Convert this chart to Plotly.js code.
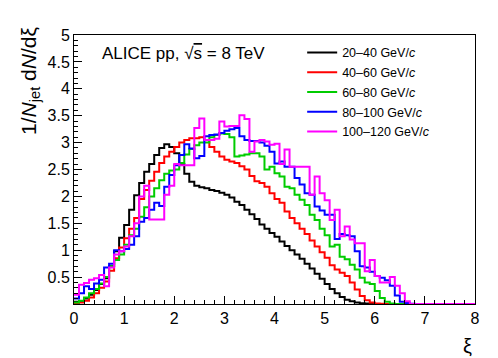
<!DOCTYPE html>
<html>
<head>
<meta charset="utf-8">
<script src="https://cdn.plot.ly/plotly-3.0.1.min.js"></script>
<style>
  html, body { margin: 0; padding: 0; background: #fff; }
  #plot { width: 498px; height: 358px; }
</style>
</head>
<body>
<div id="plot"></div>
<script>
// bin lower edges, xi = 0.0 ... 7.9 (bin width 0.1), plus upper edge 8.0
const xiEdges = Array.from({length: 81}, (_, i) => +(i * 0.1).toFixed(1));

// 1/Njet dN/dxi per bin
const pt20_40 = [0.04,0.05,0.1,0.17,0.26,0.37,0.48,0.7,0.98,1.23,
  1.47,1.75,2.02,2.25,2.46,2.6,2.77,2.9,2.97,2.92,
  2.8,2.6,2.42,2.27,2.2,2.17,2.15,2.12,2.1,2.07,
  2.03,1.98,1.9,1.84,1.75,1.67,1.58,1.48,1.4,1.32,
  1.25,1.16,1.08,1.0,0.92,0.84,0.75,0.66,0.56,0.47,
  0.37,0.28,0.2,0.13,0.08,0.05,0.03,0.015,0.008,0.004,
  0,0,0,0,0,0,0,0,0,0, 0,0,0,0,0,0,0,0,0,0];

const pt40_60 = [0.02,0.03,0.06,0.12,0.2,0.3,0.42,0.62,0.85,1.05,
  1.22,1.4,1.6,1.95,2.12,2.29,2.46,2.62,2.74,2.83,
  2.92,3.0,3.05,3.08,3.08,3.1,3.05,2.92,2.83,2.74,
  2.68,2.65,2.62,2.56,2.5,2.38,2.28,2.25,2.18,2.06,
  1.95,1.88,1.72,1.6,1.5,1.4,1.3,1.18,1.07,0.96,
  0.86,0.72,0.64,0.58,0.52,0.4,0.27,0.15,0.07,0.03,
  0.01,0.005,0,0,0,0,0,0,0,0, 0,0,0,0,0,0,0,0,0,0];

const pt60_80 = [0.03,0.06,0.12,0.2,0.28,0.38,0.5,0.7,0.82,0.92,
  1.1,1.28,1.4,1.62,1.8,2.0,2.15,2.3,2.42,2.48,
  2.5,2.62,2.78,2.88,2.95,3.0,3.0,3.1,3.14,3.17,
  3.16,3.1,2.74,2.76,2.78,2.8,2.8,2.74,2.5,2.55,
  2.43,2.37,2.18,2.15,2.03,1.94,1.84,1.66,1.56,1.4,
  1.28,1.07,1.1,0.88,0.83,0.73,0.64,0.49,0.4,0.37,
  0.24,0.11,0.04,0.01,0,0,0,0,0,0, 0,0,0,0,0,0,0,0,0,0];

const pt80_100 = [0.1,0.2,0.33,0.28,0.38,0.45,0.68,0.75,1.0,0.98,
  1.02,1.1,1.26,1.53,1.6,1.75,1.88,1.82,2.18,2.4,
  2.58,2.77,2.97,2.89,2.71,2.75,3.12,3.14,3.15,3.18,
  3.22,3.25,3.27,3.12,3.05,3.03,3.03,3.0,2.94,2.83,
  2.61,2.65,2.55,2.55,2.34,2.22,2.06,2.03,1.81,1.74,
  1.66,1.66,1.21,1.3,1.28,1.26,0.98,0.7,0.68,0.6,
  0.52,0.49,0.44,0.34,0.16,0.04,0.02,0.005,0,0, 0,0,0,0,0,0,0,0,0,0];

const pt100_120 = [0.17,0.36,0.39,0.45,0.48,0.54,0.33,0.68,0.92,0.98,
  1.07,1.26,1.5,2.0,2.2,1.57,1.57,1.57,2.03,2.2,
  2.6,2.58,2.58,2.58,3.27,3.45,3.05,3.05,3.07,3.39,
  3.3,3.31,3.31,3.51,3.44,2.83,3.02,3.05,3.02,2.96,
  2.98,2.6,2.87,2.55,2.55,2.55,2.55,2.03,2.37,2.06,
  1.93,1.56,1.75,1.26,1.44,1.2,1.13,1.13,0.61,0.82,
  0.52,0.4,0.4,0.5,0.34,0.2,0.05,0,0,0, 0,0,0,0,0,0,0,0,0,0];

const seriesNames = ['20–40 GeV/<i>c</i>', '40–60 GeV/<i>c</i>', '60–80 GeV/<i>c</i>',
  '80–100 GeV/<i>c</i>', '100–120 GeV/<i>c</i>'];
const seriesData = [pt20_40, pt40_60, pt60_80, pt80_100, pt100_120];
const seriesColors = ['#000000', '#ff0000', '#00cc00', '#0000ff', '#ff00ff'];

const yTicks = [0.5, 1, 1.5, 2, 2.5, 3, 3.5, 4, 4.5, 5];
const xTicks = [0, 1, 2, 3, 4, 5, 6, 7, 8];

const FONT = 'Liberation Sans, Arial, Helvetica, sans-serif';

// step histograms: repeat last bin content at the upper edge
let traces = seriesData.map(function (vals, k) {
  return {
    x: xiEdges,
    y: vals.concat([vals[vals.length - 1]]),
    type: 'scatter',
    mode: 'lines',
    line: {shape: 'hv', color: seriesColors[k], width: 2},
    name: seriesNames[k],
    legendgroup: 'g' + k,
    hoverinfo: 'skip'
  };
});

let layout = {
  width: 498,
  height: 358,
  margin: {l: 74, r: 23, t: 35, b: 53.5},
  paper_bgcolor: '#fff',
  plot_bgcolor: '#fff',
  font: {family: FONT, size: 16, color: '#000'},
  showlegend: true,
  legend: {
    x: 0.569, y: 0.989, xanchor: 'left', yanchor: 'top',
    bgcolor: 'rgba(0,0,0,0)', borderwidth: 0,
    font: {family: FONT, size: 12.5, color: '#000'},
    tracegroupgap: 0.5
  },
  xaxis: {
    range: [0, 8],
    tickvals: xTicks,
    ticktext: xTicks.map(String),
    ticks: 'inside', ticklen: 8, tickwidth: 1, tickcolor: '#000',
    minor: {dtick: 0.2, ticks: 'inside', ticklen: 4, tickcolor: '#000', showgrid: false},
    showline: true, linecolor: '#000', linewidth: 1, mirror: true,
    showgrid: false, zeroline: false,
    tickfont: {family: FONT, size: 16}
  },
  yaxis: {
    range: [0, 5],
    tickvals: yTicks,
    ticktext: yTicks.map(String),
    ticks: 'inside', ticklen: 8, tickwidth: 1, tickcolor: '#000',
    minor: {dtick: 0.1, ticks: 'inside', ticklen: 4, tickcolor: '#000', showgrid: false},
    showline: true, linecolor: '#000', linewidth: 1, mirror: true,
    showgrid: false, zeroline: false,
    tickfont: {family: FONT, size: 16}
  },
  annotations: [
    {
      text: '1/<i>N</i><sub>jet</sub> d<i>N</i>/dξ',
      xref: 'paper', yref: 'paper', x: -0.11, y: 1.037,
      xanchor: 'center', yanchor: 'top', textangle: -90, showarrow: false,
      font: {family: FONT, size: 21}
    },
    {
      text: 'ξ',
      xref: 'paper', yref: 'paper', x: 0.982, y: -0.155,
      xanchor: 'center', yanchor: 'middle', showarrow: false,
      font: {family: FONT, size: 20}
    },
    {
      text: 'ALICE pp, √<span style="text-decoration:overline">s</span> = 8 TeV',
      xref: 'paper', yref: 'paper', x: 0.065, y: 0.93,
      xanchor: 'left', yanchor: 'middle', showarrow: false,
      font: {family: FONT, size: 17}
    }
  ]
};

Plotly.newPlot('plot', traces, layout, {displayModeBar: false, staticPlot: true});
</script>
</body>
</html>
